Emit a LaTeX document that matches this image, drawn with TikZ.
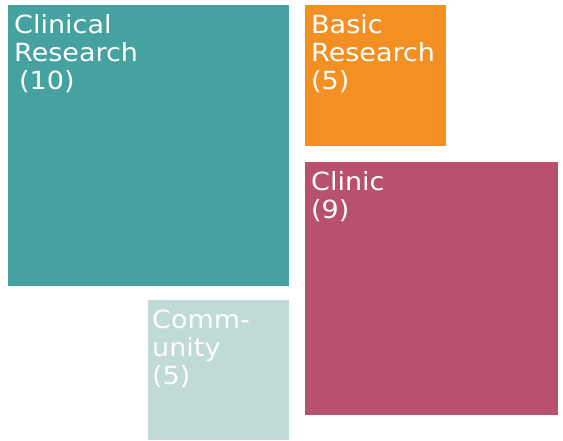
\documentclass[tikz,border=0pt]{standalone}
\usepackage{fontspec}
\setmainfont{DejaVu Sans}[FakeStretch=1.08]
\definecolor{cteal}{HTML}{46A2A0}
\definecolor{corange}{HTML}{F29023}
\definecolor{cpink}{HTML}{B9506E}
\definecolor{clight}{HTML}{BFDAD7}
\begin{document}
\begin{tikzpicture}[x=1pt,y=-1pt,
  lbl/.style={text=white, inner sep=0pt, anchor=base west, align=left,
    font=\fontsize{25}{28}\selectfont}]
\useasboundingbox (0,0) rectangle (563,440);
\fill[cteal]   (8,5)     rectangle (289,286) coordinate (cr);
\fill[corange] (305,5)   rectangle (446,146) coordinate (br);
\fill[cpink]   (305,162) rectangle (558,415) coordinate (cl);
\fill[clight]  (148,300) rectangle (289,440) coordinate (cm);
\node[lbl] (tcr) at (14,89) {Clinical\\Research\\\hspace{5pt}(10)};
\node[lbl] (tbr) at (311,89) {Basic\\Research\\(5)};
\node[lbl] (tcl) at (311,218) {Clinic\\(9)};
\node[lbl] (tcm) at (152,384) {Comm-\\unity\\(5)};
\end{tikzpicture}
\end{document}
